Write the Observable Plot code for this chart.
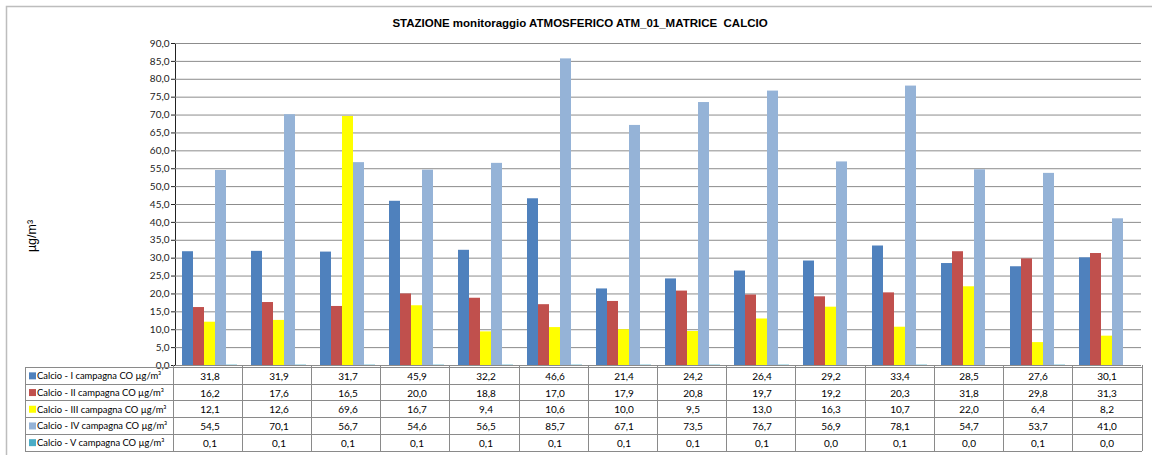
<!DOCTYPE html>
<html><head><meta charset="utf-8">
<script src="https://cdn.jsdelivr.net/npm/d3@7"></script>
<script src="https://cdn.jsdelivr.net/npm/@observablehq/plot@0.6"></script>
<style>
body{margin:0;background:#fff;}
#chart svg{display:block;overflow:visible;}
</style>
</head><body><div id="chart"></div>
<script>
const title = "STAZIONE monitoraggio ATMOSFERICO ATM_01_MATRICE  CALCIO";
const yLabel = "µg/m³";
// 14 sampling occasions (the reference shows no category labels)
const categories = ["1","2","3","4","5","6","7","8","9","10","11","12","13","14"];
const seriesNames = [
  "Calcio - I campagna CO µg/m³",
  "Calcio - II campagna CO µg/m³",
  "Calcio - III campagna CO µg/m³",
  "Calcio - IV campagna CO µg/m³",
  "Calcio - V campagna CO µg/m³"
];
const seriesColors = ["#4F81BD", "#C0504D", "#FFFF00", "#95B3D7", "#4BACC6"];
const calcioI   = [31.8, 31.9, 31.7, 45.9, 32.2, 46.6, 21.4, 24.2, 26.4, 29.2, 33.4, 28.5, 27.6, 30.1];
const calcioII  = [16.2, 17.6, 16.5, 20.0, 18.8, 17.0, 17.9, 20.8, 19.7, 19.2, 20.3, 31.8, 29.8, 31.3];
const calcioIII = [12.1, 12.6, 69.6, 16.7, 9.4, 10.6, 10.0, 9.5, 13.0, 16.3, 10.7, 22.0, 6.4, 8.2];
const calcioIV  = [54.5, 70.1, 56.7, 54.6, 56.5, 85.7, 67.1, 73.5, 76.7, 56.9, 78.1, 54.7, 53.7, 41.0];
const calcioV   = [0.1, 0.1, 0.1, 0.1, 0.1, 0.1, 0.1, 0.1, 0.1, 0.0, 0.1, 0.0, 0.1, 0.0];
const yTicks = [0,5,10,15,20,25,30,35,40,45,50,55,60,65,70,75,80,85,90];

const seriesValues = [calcioI, calcioII, calcioIII, calcioIV, calcioV];
const rows = [];
seriesValues.forEach((vals, si) => vals.forEach((v, ci) => rows.push({cat: categories[ci], series: seriesNames[si], si, value: v})));
const fmt = v => v.toFixed(1).replace(".", ",");

const FONT = "Lato, 'Open Sans', sans-serif";
const rowH = 16.7;
const tableGap = 2.5;

const textMarks = seriesNames.map((s, si) =>
  Plot.text(rows.filter(r => r.si === si), {
    fx: "cat", y: d => 0, text: d => fmt(d.value),
    dy: tableGap + rowH * si + rowH / 2 + 0.5, fill: "#000", fontSize: 10, frameAnchor: "middle"
  })
);

const plot = Plot.plot({
  width: 1152,
  height: 455,
  marginLeft: 173,
  marginRight: 10,
  marginTop: 43,
  marginBottom: 90,
  style: {fontFamily: FONT, fontSize: "10px", color: "#222", background: "transparent"},
  fx: {domain: categories, padding: 0, axis: null},
  x: {domain: seriesNames, paddingInner: 0, paddingOuter: 0.44, axis: null},
  y: {domain: [0, 90], ticks: yTicks, tickFormat: fmt, tickSize: 4, tickPadding: 2, label: null, line: true},
  color: {domain: seriesNames, range: seriesColors},
  marks: [
    Plot.ruleY(yTicks, {stroke: "#8c8c8c", strokeWidth: 1}),
    Plot.barY(rows, {fx: "cat", x: "series", y: "value", fill: "series"}),
    ...textMarks
  ]
});
document.getElementById("chart").appendChild(plot);

// decorations using Plot's own scales
const svg = d3.select(plot);
const fxS = plot.scale("fx");
const yS = plot.scale("y");
const band = d3.scaleBand().domain(fxS.domain).range(fxS.range).padding(0);
const y0 = yS.apply(0);
const tableTop = y0 + tableGap;
const tableLeft = 25;
const tableRight = band.range()[1];
const lineColor = "#8a8a8a";

// chart border
svg.insert("rect", ":first-child").attr("x", 6.5).attr("y", 6.5).attr("width", 1200).attr("height", 460)
  .attr("fill", "#fff").attr("stroke", "#bdbdbd").attr("stroke-width", 1.5);

// title
svg.append("text").attr("x", 580).attr("y", 27).attr("text-anchor", "middle")
  .attr("font-family", "'Liberation Sans', Arial, sans-serif").attr("font-weight", "bold").attr("font-size", 11.5)
  .attr("fill", "#000").text(title);

// y label
svg.append("text").attr("transform", `translate(36,236) rotate(-90)`)
  .attr("text-anchor", "middle").attr("font-family", "'Liberation Sans', Arial, sans-serif").attr("font-size", 12.5)
  .attr("fill", "#000").text(yLabel);

// table grid
const g = svg.append("g").attr("stroke", lineColor).attr("stroke-width", 1).attr("shape-rendering", "crispEdges");
for (let i = 0; i <= seriesNames.length; i++) {
  const yy = tableTop + rowH * i;
  g.append("line").attr("x1", tableLeft).attr("x2", tableRight).attr("y1", yy).attr("y2", yy);
}
g.append("line").attr("x1", tableLeft).attr("x2", tableLeft).attr("y1", tableTop).attr("y2", tableTop + rowH * seriesNames.length);
categories.forEach(c => {
  const xx = band(c);
  g.append("line").attr("x1", xx).attr("x2", xx).attr("y1", y0).attr("y2", tableTop + rowH * seriesNames.length);
});
g.append("line").attr("x1", tableRight).attr("x2", tableRight).attr("y1", y0).attr("y2", tableTop + rowH * seriesNames.length);

// legend keys in first column
const lg = svg.append("g").attr("text-anchor", "start");
seriesNames.forEach((s, si) => {
  const cy = tableTop + rowH * si + rowH / 2;
  lg.append("rect").attr("x", 29).attr("y", cy - 3.5).attr("width", 7).attr("height", 7).attr("fill", seriesColors[si]);
  lg.append("text").attr("x", 37).attr("y", cy + 3.5).attr("text-anchor", "start").attr("font-family", FONT).attr("font-size", 9.4)
    .attr("fill", "#000").text(s);
});
</script>
</body></html>
